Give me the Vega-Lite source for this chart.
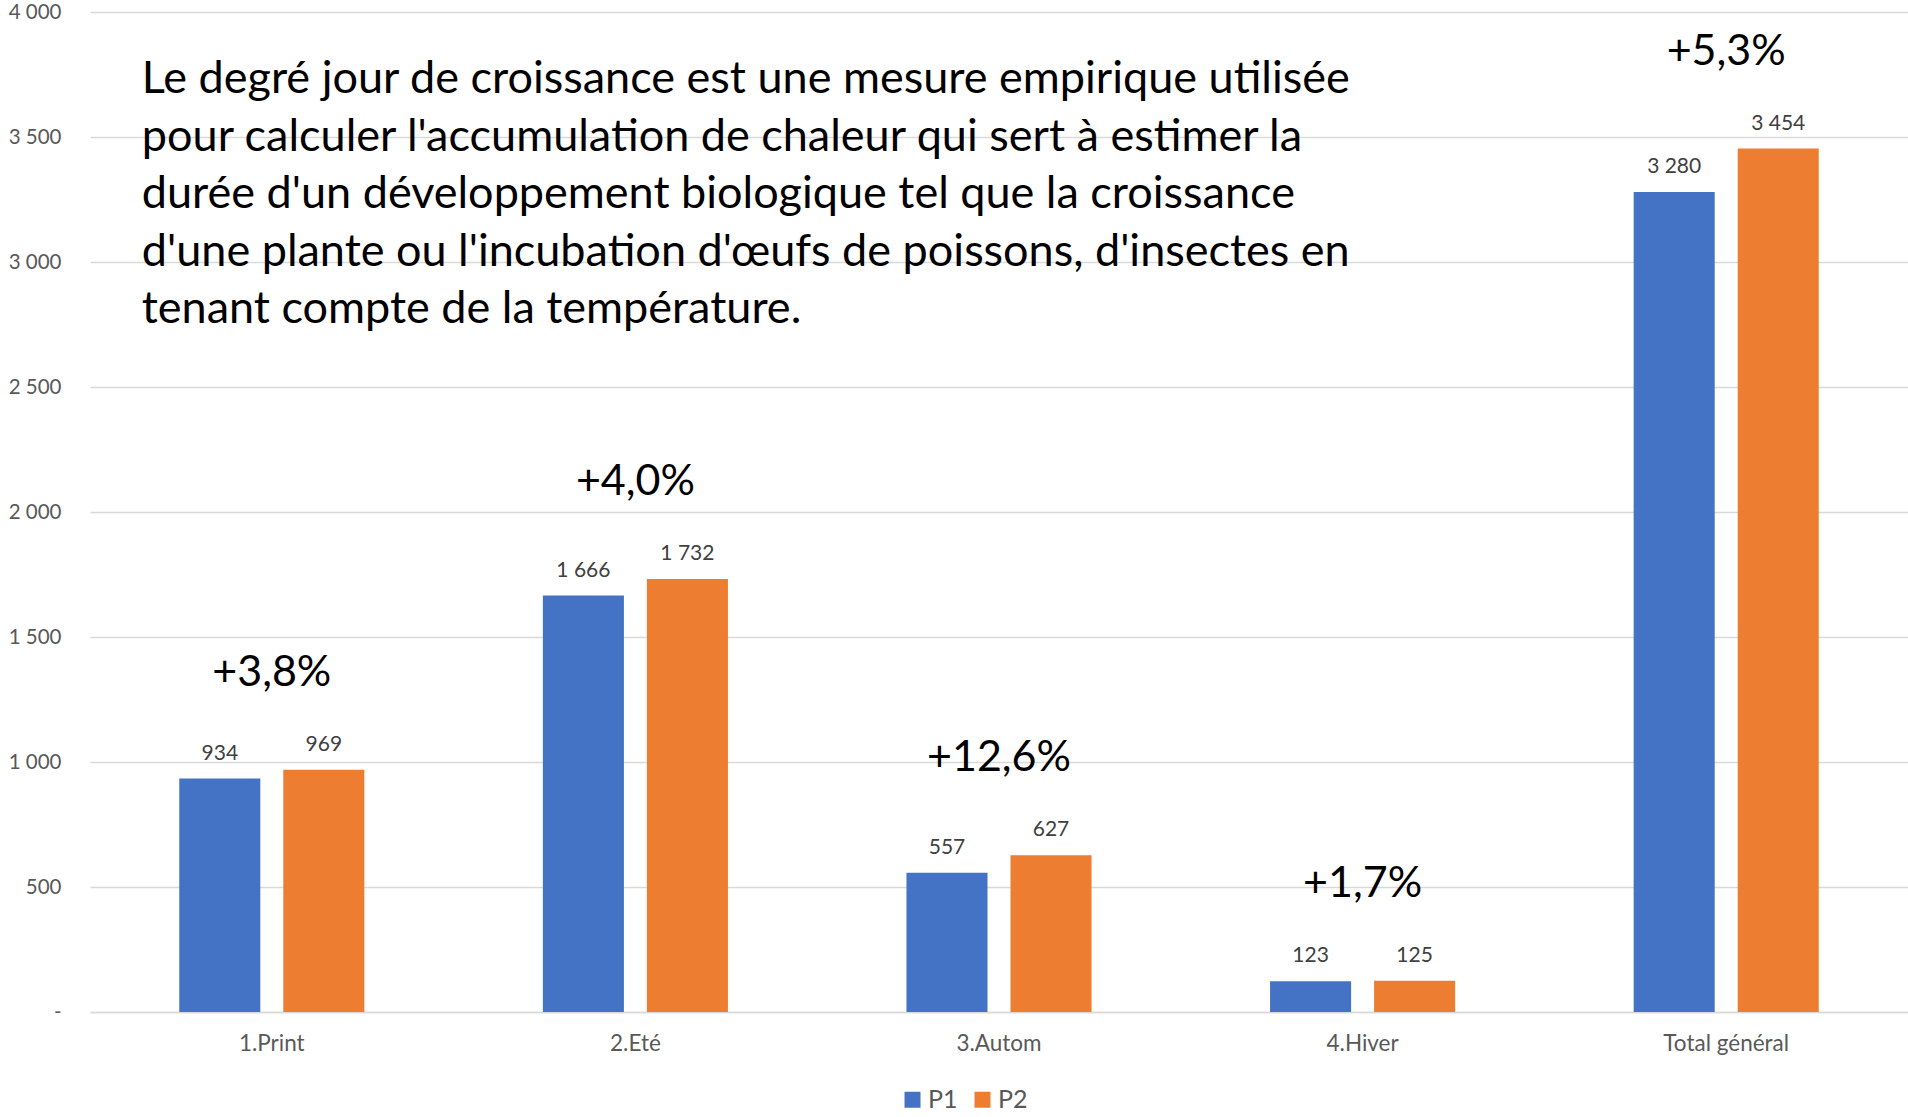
{
  "$schema": "https://vega.github.io/schema/vega-lite/v6.json",
  "width": 1818,
  "height": 1000,
  "autosize": {"type": "none"},
  "padding": {"left": 90, "top": 12, "right": 0, "bottom": 105},
  "config": {
    "locale": {"number": {"decimal": ",", "thousands": " ", "grouping": [3], "currency": ["", " €"]}},
    "view": {"stroke": null},
    "font": "Lato"
  },
  "datasets": {
    "bars": [
      {"cat": "1.Print", "period": "P1", "value": 934},
      {"cat": "1.Print", "period": "P2", "value": 969},
      {"cat": "2.Eté", "period": "P1", "value": 1666},
      {"cat": "2.Eté", "period": "P2", "value": 1732},
      {"cat": "3.Autom", "period": "P1", "value": 557},
      {"cat": "3.Autom", "period": "P2", "value": 627},
      {"cat": "4.Hiver", "period": "P1", "value": 123},
      {"cat": "4.Hiver", "period": "P2", "value": 125},
      {"cat": "Total général", "period": "P1", "value": 3280},
      {"cat": "Total général", "period": "P2", "value": 3454}
    ],
    "pct": [
      {"cat": "1.Print", "pct": "+3,8%", "top": 969},
      {"cat": "2.Eté", "pct": "+4,0%", "top": 1732},
      {"cat": "3.Autom", "pct": "+12,6%", "top": 627},
      {"cat": "4.Hiver", "pct": "+1,7%", "top": 125},
      {"cat": "Total général", "pct": "+5,3%", "top": 3454}
    ]
  },
  "layer": [
    {
      "data": {"name": "bars"},
      "mark": {"type": "bar"},
      "encoding": {
        "x": {
          "field": "cat", "type": "nominal", "sort": null,
          "scale": {"domain": ["1.Print", "2.Eté", "3.Autom", "4.Hiver", "Total général"], "paddingInner": 0.491, "paddingOuter": 0.2455},
          "axis": {"title": null, "labelAngle": 0, "ticks": false, "domainColor": "#d9d9d9", "domainWidth": 1.5, "labelPadding": 20, "labelFontSize": 22.5, "labelColor": "#595959", "grid": false}
        },
        "xOffset": {"field": "period", "type": "nominal", "scale": {"paddingInner": 0.221, "paddingOuter": 0}},
        "y": {
          "field": "value", "type": "quantitative",
          "scale": {"domain": [0, 4000]},
          "axis": {"title": null, "values": [0, 500, 1000, 1500, 2000, 2500, 3000, 3500, 4000], "format": ",d", "labelExpr": "datum.value == 0 ? '-' : datum.label", "domain": false, "ticks": false, "labelPadding": 29, "labelFontSize": 20.5, "labelColor": "#595959", "gridColor": "#d9d9d9", "gridWidth": 1.5}
        },
        "color": {
          "field": "period", "type": "nominal",
          "scale": {"domain": ["P1", "P2"], "range": ["#4472C4", "#ED7D31"]},
          "legend": {"title": null, "orient": "none", "legendX": 810, "legendY": 1075, "direction": "horizontal", "symbolType": "square", "symbolSize": 256, "symbolStrokeWidth": 0, "labelFontSize": 25, "labelColor": "#595959", "columnPadding": 12, "labelOffset": 3}
        }
      }
    },
    {
      "data": {"name": "bars"},
      "mark": {"type": "text", "baseline": "alphabetic", "dy": -19, "fontSize": 21, "color": "#404040"},
      "encoding": {
        "x": {"field": "cat", "type": "nominal", "sort": null},
        "xOffset": {"field": "period", "type": "nominal"},
        "y": {"field": "value", "type": "quantitative"},
        "text": {"field": "value", "type": "quantitative", "format": ",d"}
      }
    },
    {
      "data": {"name": "pct"},
      "mark": {"type": "text", "baseline": "alphabetic", "dy": -84, "fontSize": 43, "color": "#000000"},
      "encoding": {
        "x": {"field": "cat", "type": "nominal", "sort": null},
        "y": {"field": "top", "type": "quantitative"},
        "text": {"field": "pct"}
      }
    },
    {
      "data": {"values": [{}]},
      "mark": {"type": "text", "align": "left", "baseline": "alphabetic", "dx": -130, "fontSize": 45, "lineHeight": 57.5, "color": "#000000"},
      "encoding": {
        "x": {"datum": "1.Print", "type": "nominal"},
        "y": {"datum": 3676, "type": "quantitative"},
        "text": {"value": [
          "Le degré jour de croissance est une mesure empirique utilisée",
          "pour calculer l'accumulation de chaleur qui sert à estimer la",
          "durée d'un développement biologique tel que la croissance",
          "d'une plante ou l'incubation d'œufs de poissons, d'insectes en",
          "tenant compte de la température."
        ]}
      }
    }
  ]
}
